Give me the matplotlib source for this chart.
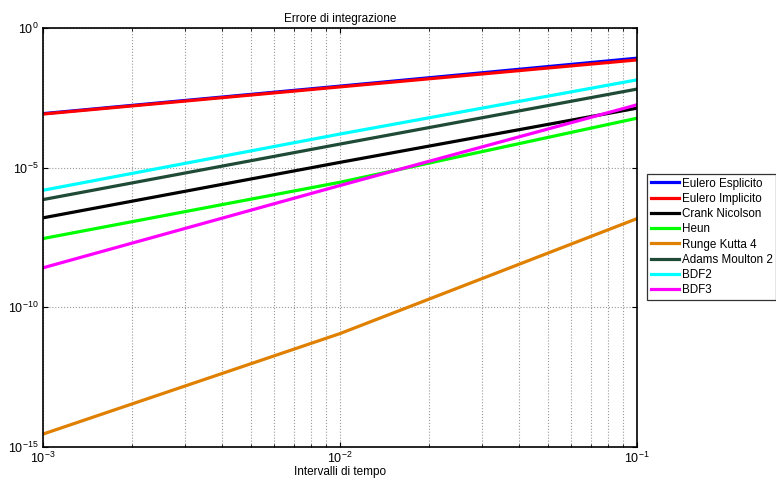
import numpy as np
import matplotlib.pyplot as plt
from matplotlib.ticker import LogLocator, NullLocator

plt.rcParams['font.family'] = ['Liberation Sans', 'DejaVu Sans']
plt.rcParams['mathtext.fontset'] = 'custom'
plt.rcParams['mathtext.rm'] = 'Liberation Sans'

# time steps and errors
dt = [1e-3, 1e-2, 1e-1]
eulero_esp = [8.6e-4, 8.3e-3, 8.3e-2]
eulero_imp = [8.3e-4, 7.8e-3, 7.2e-2]
crank = [1.6e-7, 1.55e-5, 1.35e-3]
heun = [2.9e-8, 3.0e-6, 5.9e-4]
rk4 = [2.9e-15, 1.15e-11, 1.5e-7]
adams = [7.2e-7, 7.0e-5, 6.5e-3]
bdf2 = [1.55e-6, 1.6e-4, 1.39e-2]
bdf3 = [2.6e-9, 2.3e-6, 1.78e-3]

series = [
    ('Eulero Esplicito', eulero_esp, '#0000ff'),
    ('Eulero Implicito', eulero_imp, '#ff0000'),
    ('Crank Nicolson', crank, '#000000'),
    ('Heun', heun, '#00ff00'),
    ('Runge Kutta 4', rk4, '#e08000'),
    ('Adams Moulton 2', adams, '#1f4a35'),
    ('BDF2', bdf2, '#00ffff'),
    ('BDF3', bdf3, '#ff00ff'),
]

fig = plt.figure(figsize=(7.76, 4.79), dpi=100)
ax = fig.add_axes([43/776, 1-447/479, (637-43)/776, (447-28)/479])

for name, vals, col in series:
    ax.loglog(dt, vals, color=col, lw=2.3, label=name)

ax.set_xlim(1e-3, 1e-1)
ax.set_ylim(1e-15, 1e0)
ax.set_yticks([1e-15, 1e-10, 1e-5, 1e0])
ax.yaxis.set_minor_locator(NullLocator())
ax.xaxis.set_minor_locator(LogLocator(base=10, subs=np.arange(2, 10)))

ax.grid(True, which='major', axis='both', ls=':', color='#999999', lw=0.8)
ax.grid(True, which='minor', axis='x', ls=':', color='#999999', lw=0.8)
ax.tick_params(which='both', direction='in', top=True, right=True, labelsize=9)
ax.tick_params(axis='x', pad=3)
for s in ax.spines.values():
    s.set_linewidth(1.2)

ax.set_title('Errore di integrazione', fontsize=8.5, pad=4)
ax.set_xlabel('Intervalli di tempo', fontsize=8.5, labelpad=0)

leg = ax.legend(loc='upper left', bbox_to_anchor=(647/776, 1-174/479),
                bbox_transform=fig.transFigure, fontsize=8.4, frameon=True,
                fancybox=False, edgecolor='black', handlelength=2.4,
                borderpad=0.3, labelspacing=0.28, handletextpad=0.3,
                borderaxespad=0)
leg.get_frame().set_linewidth(0.9)

fig.savefig('out.png', dpi=100)
